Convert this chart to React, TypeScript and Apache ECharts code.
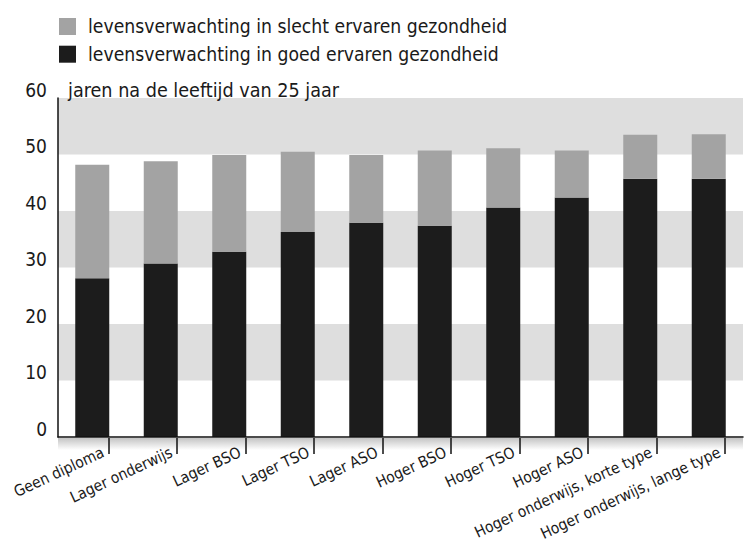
import React, { useEffect, useRef } from "react";
import * as echarts from "echarts";

const categories = [
  "Geen diploma",
  "Lager onderwijs",
  "Lager BSO",
  "Lager TSO",
  "Lager ASO",
  "Hoger BSO",
  "Hoger TSO",
  "Hoger ASO",
  "Hoger onderwijs, korte type",
  "Hoger onderwijs, lange type",
];
const goedErvaren = [28.1, 30.7, 32.8, 36.3, 37.9, 37.4, 40.6, 42.4, 45.7, 45.7];
const slechtErvaren = [20.1, 18.1, 17.1, 14.2, 12.0, 13.3, 10.5, 8.3, 7.8, 7.9];
const seriesNames = [
  "levensverwachting in slecht ervaren gezondheid",
  "levensverwachting in goed ervaren gezondheid",
];
const yAxisTitle = "jaren na de leeftijd van 25 jaar";
const yMin = 0;
const yMax = 60;
const yInterval = 10;

const FONT = "'Liberation Sans Narrow', 'DejaVu Sans Condensed', 'Arial Narrow', sans-serif";

export default function App() {
  const ref = useRef<HTMLDivElement>(null);
  useEffect(() => {
    if (!ref.current) return;
    const chart = echarts.init(ref.current, null, { renderer: "svg" });
    chart.setOption({
      animation: false,
      backgroundColor: "#ffffff",
      textStyle: { fontFamily: FONT },
      legend: {
        data: [seriesNames[0], seriesNames[1]],
        orient: "vertical",
        left: 59,
        top: 17,
        padding: 0,
        itemWidth: 17,
        itemHeight: 17,
        itemGap: 8.7,
        icon: "rect",
        selectedMode: false,
        textStyle: {
          fontFamily: FONT,
          fontSize: 19.2,
          lineHeight: 17,
          color: "#1a1a1a",
          padding: [0, 0, 0, 7],
        },
      },
      graphic: [
        {
          type: "rect",
          left: 58,
          top: 438,
          shape: { width: 685, height: 12 },
          style: {
            fill: new echarts.graphic.LinearGradient(0, 0, 0, 1, [
              { offset: 0, color: "#c4c4c4" },
              { offset: 1, color: "#ffffff" },
            ]),
          },
          z: 0,
        },
      ],
      grid: [
        { left: 58, top: 98, width: 685, height: 339, outerBoundsMode: "none", containLabel: false },
        { left: 108.5, top: 437, width: 616.5, height: 1, outerBoundsMode: "none", containLabel: false },
      ],
      xAxis: [
        {
          type: "category",
          gridIndex: 0,
          data: categories,
          boundaryGap: true,
          axisLine: { show: true, lineStyle: { color: "#111", width: 1.5 } },
          axisTick: { show: false },
          axisLabel: { show: false },
          z: 5,
        },
        {
          type: "category",
          gridIndex: 1,
          data: categories,
          boundaryGap: false,
          position: "bottom",
          axisLine: { show: false },
          axisTick: {
            show: true,
            length: 16,
            alignWithLabel: true,
            lineStyle: { color: "#111", width: 1.5 },
          },
          axisLabel: {
            show: true,
            interval: 0,
            rotate: 25,
            margin: 11,
            fontFamily: FONT,
            fontSize: 15.5,
            color: "#1a1a1a",
            padding: [0, 6, 0, 0],
            hideOverlap: false,
          },
        },
      ],
      yAxis: [
        {
          type: "value",
          gridIndex: 0,
          min: yMin,
          max: yMax,
          interval: yInterval,
          name: yAxisTitle,
          nameLocation: "end",
          nameGap: 0,
          nameTextStyle: {
            fontFamily: FONT,
            fontSize: 19.6,
            color: "#1a1a1a",
            align: "left",
            verticalAlign: "bottom",
            lineHeight: 16,
            padding: [0, 0, 0, 10],
          },
          axisLine: { show: true, lineStyle: { color: "#111", width: 1.5 } },
          axisTick: { show: false },
          splitLine: { show: false },
          splitArea: {
            show: true,
            areaStyle: { color: ["rgba(255,255,255,0)", "#dedede"] },
          },
          axisLabel: {
            margin: 11,
            fontFamily: FONT,
            fontSize: 19,
            color: "#1a1a1a",
            verticalAlign: "bottom",
            lineHeight: 17,
          },
        },
        { type: "value", gridIndex: 1, show: false },
      ],
      series: [
        {
          name: seriesNames[1],
          type: "bar",
          stack: "total",
          xAxisIndex: 0,
          yAxisIndex: 0,
          barWidth: 34,
          itemStyle: { color: "#1c1c1c" },
          data: goedErvaren,
        },
        {
          name: seriesNames[0],
          type: "bar",
          stack: "total",
          xAxisIndex: 0,
          yAxisIndex: 0,
          barWidth: 34,
          itemStyle: { color: "#a3a3a3" },
          data: slechtErvaren,
        },
      ],
    });
    return () => chart.dispose();
  }, []);
  return (
    <div
      ref={ref}
      style={{ position: "absolute", left: 0, top: 0, width: 745, height: 548 }}
    />
  );
}
